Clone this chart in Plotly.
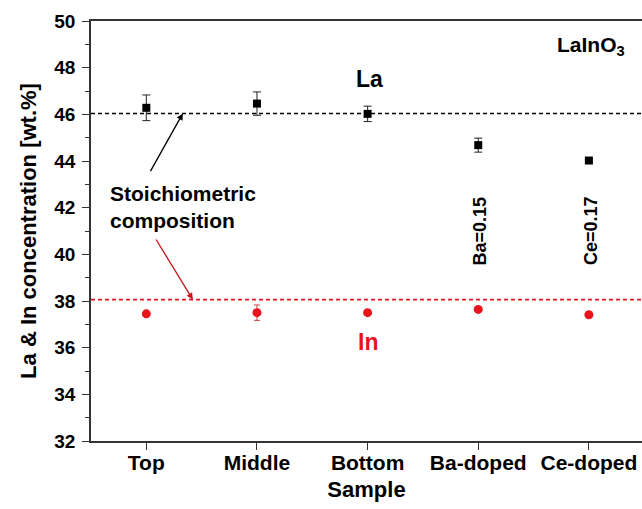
import plotly.graph_objects as go

samples = ["Top", "Middle", "Bottom", "Ba-doped", "Ce-doped"]
la_vals = [46.28, 46.46, 46.02, 44.68, 44.02]
la_err = [0.55, 0.5, 0.33, 0.3, 0.05]
in_vals = [37.45, 37.5, 37.5, 37.64, 37.41]
in_err = [0.05, 0.33, 0.05, 0.05, 0.05]
la_stoich = 46.04
in_stoich = 38.06
yticks = [32, 34, 36, 38, 40, 42, 44, 46, 48, 50]

xpos = list(range(1, len(samples) + 1))
FONT = "Liberation Sans, Arial, sans-serif"

fig = go.Figure()
fig.add_trace(go.Scatter(x=[0.5, 5.5], y=[la_stoich, la_stoich], mode="lines",
                         line=dict(color="black", width=1.5, dash="4px,3px"), showlegend=False))
fig.add_trace(go.Scatter(x=[0.5, 5.5], y=[in_stoich, in_stoich], mode="lines",
                         line=dict(color="#e8141c", width=1.8, dash="4px,3px"), showlegend=False))
fig.add_trace(go.Scatter(x=xpos, y=la_vals, mode="markers",
                         marker=dict(symbol="square", size=8, color="black"),
                         error_y=dict(type="data", array=la_err, color="#222", thickness=1, width=4),
                         showlegend=False))
fig.add_trace(go.Scatter(x=xpos, y=in_vals, mode="markers",
                         marker=dict(symbol="circle", size=9, color="#e8141c"),
                         error_y=dict(type="data", array=in_err, color="#c44", thickness=1, width=3),
                         showlegend=False))

rot = dict(family=FONT, size=18, color="black")
anns = [
    dict(x=3.02, y=47.5, text="<b>La</b>", font=dict(family=FONT, size=23, color="black")),
    dict(x=3.0, y=36.25, text="<b>In</b>", font=dict(family=FONT, size=23, color="#e8141c")),
    dict(x=5.02, y=48.95, text="<b>LaInO<sub>3</sub></b>", font=dict(family=FONT, size=21, color="black")),
    dict(x=0.655, y=42.04, text="<b>Stoichiometric<br>composition</b>", xanchor="left", align="left",
         font=dict(family=FONT, size=21, color="black")),
    dict(x=4.02, y=41.0, text="<b>Ba=0.15</b>", textangle=-90, font=rot),
    dict(x=5.02, y=41.0, text="<b>Ce=0.17</b>", textangle=-90, font=rot),
]
for a in anns:
    a.setdefault("showarrow", False)
    a.setdefault("xref", "x")
    a.setdefault("yref", "y")
    fig.add_annotation(**a)

fig.add_annotation(x=1.33, y=la_stoich, ax=1.03, ay=43.5, xref="x", yref="y", axref="x", ayref="y",
                   showarrow=True, arrowhead=2, arrowsize=1, arrowwidth=1.3, arrowcolor="black", text="")
fig.add_annotation(x=1.42, y=in_stoich, ax=1.08, ay=40.7, xref="x", yref="y", axref="x", ayref="y",
                   showarrow=True, arrowhead=2, arrowsize=1, arrowwidth=1.3, arrowcolor="#c8141c", text="")

fig.update_layout(
    width=642, height=509,
    margin=dict(l=91, r=0, t=21, b=68),
    plot_bgcolor="white", paper_bgcolor="white",
    font=dict(family=FONT, color="black"),
)
fig.update_xaxes(range=[0.5, 5.48], tickvals=xpos, ticktext=[f"<b>{s}</b>" for s in samples],
                 showline=True, linecolor="#333", linewidth=1.5, mirror=True,
                 ticks="outside", ticklen=7, tickcolor="#333", tickwidth=1.2, ticklabelstandoff=-5,
                 showgrid=False, zeroline=False, tickfont=dict(family=FONT, size=21, color="black"),
                 title=dict(text="<b>Sample</b>", font=dict(family=FONT, size=22, color="black"), standoff=9))
fig.update_yaxes(range=[32, 50], tickvals=yticks, ticktext=[f"<b>{v}</b>" for v in yticks],
                 showline=True, linecolor="#333", linewidth=1.5,
                 ticks="outside", ticklen=7, tickcolor="#333", tickwidth=1.2, ticklabelstandoff=3,
                 minor=dict(dtick=1, ticks="outside", ticklen=4, tickcolor="#333", tickwidth=1),
                 showgrid=False, zeroline=False, tickfont=dict(family=FONT, size=19, color="black"),
                 title=dict(text="<b>La &amp; In concentration [wt.%]</b>",
                            font=dict(family=FONT, size=22, color="black"), standoff=12))

fig.write_html("out.html")
